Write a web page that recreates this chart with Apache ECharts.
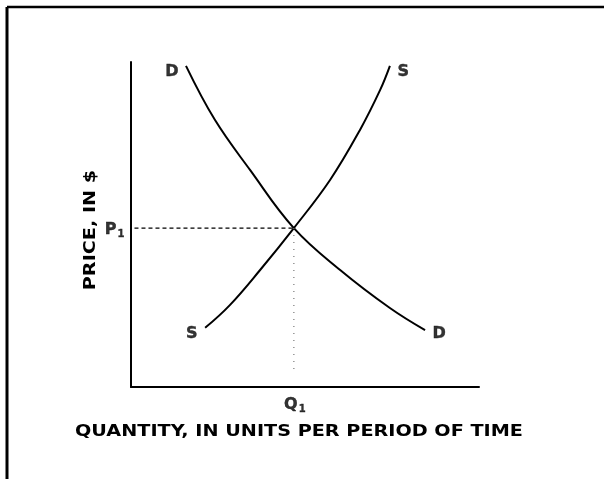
<!DOCTYPE html>
<html>
<head>
<meta charset="utf-8">
<script src="https://cdn.jsdelivr.net/npm/echarts@6/dist/echarts.min.js"></script>
<style>
  html, body { margin: 0; padding: 0; background: #fff; }
  #main { width: 604px; height: 479px; }
</style>
</head>
<body>
<div id="main"></div>
<script>
// demand curve D (quantity, price)
var demand = [[15.8, 98.8], [24.1, 82.2], [34.2, 66.8], [46.8, 48.9], [60.1, 36.0], [74.4, 24.3], [84.5, 17.5]];
// supply curve S
var supply = [[21.3, 18.2], [28.4, 25.2], [37.1, 36.0], [46.8, 48.9], [57.2, 63.7], [65.8, 79.1], [71.6, 91.4], [74.4, 98.8]];
// equilibrium point
var Q1 = 46.8;
var P1 = 48.9;
var priceGuide = [[1, P1], [Q1, P1]];
var qtyGuide = [[Q1, P1], [Q1, 4.6]];
var xName = 'QUANTITY, IN UNITS PER PERIOD OF TIME';
var yName = 'PRICE, IN $';

var font = 'DejaVu Sans, Liberation Sans, Arial, sans-serif';
var lbl = { color: '#000', fontFamily: font, fontWeight: 'bold', fontSize: 16, textBorderColor: '#000', textBorderWidth: 0.4 };
var sub = {
  p: { color: '#000', fontFamily: font, fontWeight: 'bold', fontSize: 16, textBorderColor: '#000', textBorderWidth: 0.4 },
  s: { color: '#000', fontFamily: font, fontWeight: 'bold', fontSize: 10, padding: [9, 0, 0, 1] }
};

function pt(p, text, pos, off) {
  return { value: p, label: Object.assign({ show: true, formatter: text, position: pos, offset: off, rich: sub }, lbl) };
}

var myChart = echarts.init(document.getElementById('main'));
var option = {
  animation: false,
  backgroundColor: '#fff',
  grid: { left: 131, right: 125, top: 62, bottom: 92 },
  xAxis: {
    type: 'value', min: 0, max: 100,
    axisLine: { lineStyle: { color: '#000', width: 2 } },
    axisTick: { show: false }, axisLabel: { show: false }, splitLine: { show: false }
  },
  yAxis: {
    type: 'value', min: 0, max: 100,
    axisLine: { lineStyle: { color: '#000', width: 2 } },
    axisTick: { show: false }, axisLabel: { show: false }, splitLine: { show: false }
  },
  graphic: [
    { type: 'line', shape: { x1: 7, y1: 7, x2: 7, y2: 479 }, style: { stroke: '#000', lineWidth: 3 } },
    { type: 'line', shape: { x1: 7, y1: 7, x2: 604, y2: 7 }, style: { stroke: '#000', lineWidth: 2.5 } },
    {
      type: 'text', x: 299, y: 432, scaleX: 1.2,
      style: { text: xName, fill: '#000', font: 'bold 16px ' + font, align: 'center', verticalAlign: 'middle' }
    },
    {
      type: 'text', x: 91, y: 230, rotation: Math.PI / 2, scaleX: 1.2,
      style: { text: yName, fill: '#000', font: 'bold 16px ' + font, align: 'center', verticalAlign: 'middle' }
    }
  ],
  series: [
    {
      type: 'line', smooth: 0.4, symbol: 'none',
      lineStyle: { color: '#000', width: 2 },
      data: demand
    },
    {
      type: 'line', smooth: 0.4, symbol: 'none',
      lineStyle: { color: '#000', width: 2 },
      data: supply
    },
    {
      type: 'line', symbol: 'none',
      lineStyle: { color: '#000', width: 1.2, type: [4, 3] },
      data: priceGuide
    },
    {
      type: 'line', symbol: 'none',
      lineStyle: { color: '#777', width: 1.2, type: [1, 6] },
      data: qtyGuide
    },
    {
      // curve and equilibrium labels
      type: 'scatter', symbolSize: 1, itemStyle: { color: 'rgba(0,0,0,0)' }, silent: true,
      data: [
        pt(demand[0], 'D', 'left', [-2, 6]),
        pt(demand[demand.length - 1], 'D', 'right', [2, 4]),
        pt(supply[0], 'S', 'left', [-2, 6]),
        pt(supply[supply.length - 1], 'S', 'right', [2, 6]),
        pt([0, P1], '{p|P}{s|1}', 'left', [-1, 2]),
        pt([Q1, 0], '{p|Q}{s|1}', 'bottom', [1, 3])
      ]
    }
  ]
};
myChart.setOption(option);
</script>
</body>
</html>
